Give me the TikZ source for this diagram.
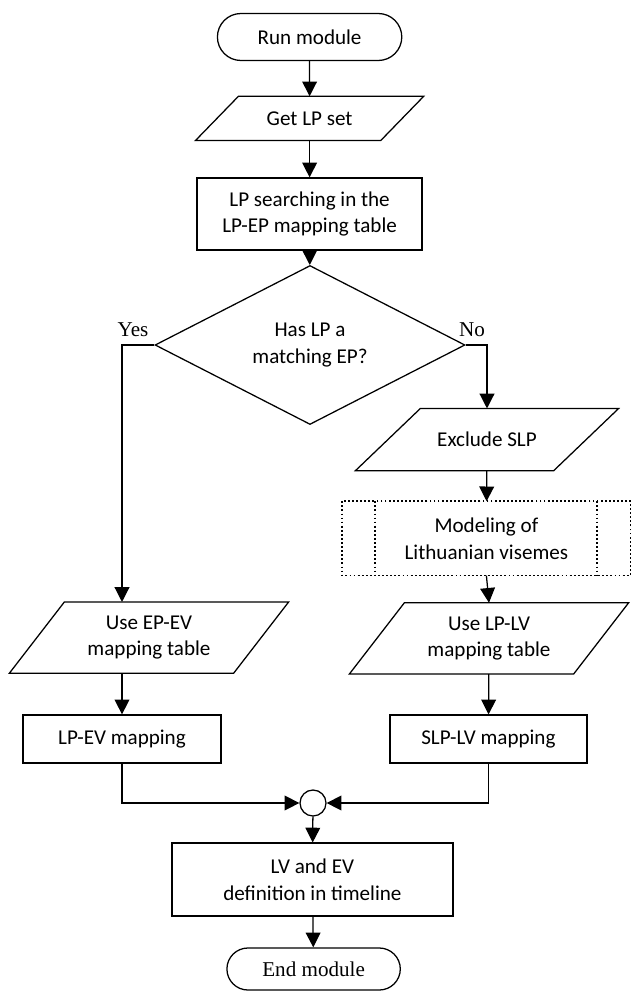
\documentclass[tikz,border=0pt]{standalone}
\usepackage{fontspec}
\setmainfont{Carlito}
\newfontfamily\timesfont{Liberation Serif}
\usetikzlibrary{
  arrows.meta,
  calc,
  shapes.geometric,
  shapes.misc
}
% slanted outline round a named node: #1 node, #2 half of the slant
\newcommand{\ioshape}[2]{%
  \draw[line width=0.9pt] ([xshift=-#2]#1.south west) -- ([xshift=-#2]#1.south east)
    -- ([xshift=#2]#1.north east) -- ([xshift=#2]#1.north west) -- cycle;}
\tikzset{
  box/.style={
    draw,
    line width=0.9pt,
    align=center,
    inner sep=2pt,
    font=\fontsize{15}{19}\selectfont},
  term/.style={box, rounded rectangle},
  proc/.style={box, rectangle},
  io/.style={box, rectangle, draw=none},
  decision/.style={box, diamond, inner sep=0pt},
  flow/.style={
    -{Triangle[length=10.5pt,width=10.5pt]},
    line width=0.9pt},
  dots/.style={line width=1.3pt, dash pattern=on 1.3pt off 1.6pt}
  }

\begin{document}
\begin{tikzpicture}
    \useasboundingbox (0,0) rectangle (15.75,-24.8);
    \node[term, minimum width=4.75cm, minimum height=1.175cm] (run) at (7.74,-0.925) {Run module};
    \node[io, minimum width=4.6cm, minimum height=1.075cm] (getlp) at (7.74,-2.96) {Get LP set};
    \ioshape{getlp}{0.5375cm}
    \node[proc, minimum width=5.625cm, minimum height=1.8cm] (search) at (7.74,-5.35) {LP searching in the\\LP-EP mapping table};
    \node[decision, minimum width=7.75cm, minimum height=3.15cm] (dec) at (7.75,-8.625) {Has LP a\\matching EP?};
    \node[font=\timesfont\fontsize{15}{19}\selectfont] (yes) at (3.325,-8.25) {Yes};
    \node[font=\timesfont\fontsize{15}{19}\selectfont] (no) at (11.8,-8.25) {No};
    \node[io, minimum width=4.925cm, minimum height=1.525cm] (excl) at (12.175,-10.99) {Exclude SLP};
    \ioshape{excl}{0.8125cm}
    \node[box, draw=none, minimum width=7.175cm, minimum height=1.825cm] (model) at (12.16,-13.46) {Modeling of\\Lithuanian visemes};
    \draw[dots] (model.north west) rectangle (model.south east);
    \draw[dots] ($(model.north)+(-2.775,0)$) -- ($(model.south)+(-2.775,0)$);
    \draw[dots] ($(model.north)+(2.775,0)$) -- ($(model.south)+(2.775,0)$);
    \node[io, minimum width=5.575cm, minimum height=1.75cm] (useev) at (3.725,-15.94) {Use EP-EV\\mapping table};
    \ioshape{useev}{0.6875cm}
    \node[io, minimum width=5.575cm, minimum height=1.75cm] (uselv) at (12.225,-15.96) {Use LP-LV\\mapping table};
    \ioshape{uselv}{0.6875cm}
    \node[proc, minimum width=4.95cm, minimum height=1.2cm] (lpev) at (3.05,-18.475) {LP-EV mapping};
    \node[proc, minimum width=4.925cm, minimum height=1.2cm] (slplv) at (12.21,-18.475) {SLP-LV mapping};
    \node[draw, circle, line width=0.9pt, minimum size=0.65cm, inner sep=0pt] (merge) at (7.825,-20.075) {};
    \node[proc, minimum width=7.025cm, minimum height=1.825cm] (lvev) at (7.81,-21.99) {LV and EV\\definition in timeline};
    \node[term, minimum width=4.475cm, minimum height=1.05cm, font=\timesfont\fontsize{15}{19}\selectfont] (end) at (7.84,-24.225) {End module};
    \draw[flow] (run) -- (getlp);
    \draw[flow] (getlp) -- (search);
    \draw[flow] (search) -- (dec);
    \draw[flow] (dec.west) -| (lpev.north |- useev.north);
    \draw[flow] (dec.east) -| (excl.north);
    \draw[flow] (excl) -- (model);
    \draw[flow] (model.south) -- (uselv.north);
    \draw[flow] (useev.south -| lpev.north) -- (lpev.north);
    \draw[flow] (uselv) -- (slplv);
    \draw[flow] (lpev.south) |- (merge.west);
    \draw[flow] (slplv.south) |- (merge.east);
    \draw[flow] (merge) -- (lvev);
    \draw[flow] (lvev) -- (end);
\end{tikzpicture}
\end{document}
